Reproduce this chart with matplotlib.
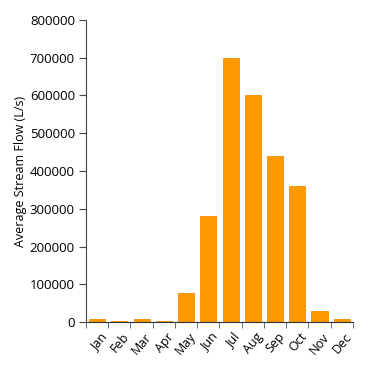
import numpy as np
import matplotlib.pyplot as plt

months = ['Jan', 'Feb', 'Mar', 'Apr', 'May', 'Jun', 'Jul', 'Aug', 'Sep', 'Oct', 'Nov', 'Dec']
flow = [8000, 4000, 7000, 3000, 77000, 281000, 700000, 601000, 440000, 360000, 29000, 8000]
yticks = [0, 100000, 200000, 300000, 400000, 500000, 600000, 700000, 800000]

plt.rcParams['font.family'] = ['Open Sans', 'DejaVu Sans']

fig = plt.figure(figsize=(3.73, 3.70), dpi=100)
ax = fig.add_axes([0.2306, 0.1297, 0.946 - 0.2306, 0.946 - 0.1297])

x = np.arange(len(months))
ax.bar(x, flow, width=0.72, color='#ff9900', edgecolor='#f08c00', linewidth=0.6)

ax.set_xlim(-0.5, len(months) - 0.5)
ax.set_ylim(0, 800000)
ax.set_yticks(yticks)
ax.set_yticklabels([str(v) for v in yticks], fontsize=9.5)

# labels at bar centres, tick marks at the band edges
ax.set_xticks(x + 0.1)
ax.set_xticklabels(months, rotation=50, ha='right', rotation_mode='anchor', fontsize=9)
ax.tick_params(axis='x', length=0, pad=6)
ax.set_xticks(np.arange(-0.5, len(months)), minor=True)
ax.tick_params(axis='x', which='minor', length=4, color='#4a5a7a')
ax.tick_params(axis='y', length=5, color='#444444', pad=3)

ax.set_ylabel('Average Stream Flow (L/s)', fontsize=9, labelpad=2)

for s in ['top', 'right']:
    ax.spines[s].set_visible(False)
ax.spines['left'].set_color('#444444')
ax.spines['bottom'].set_color('#333333')

fig.savefig('out.png', dpi=100)
